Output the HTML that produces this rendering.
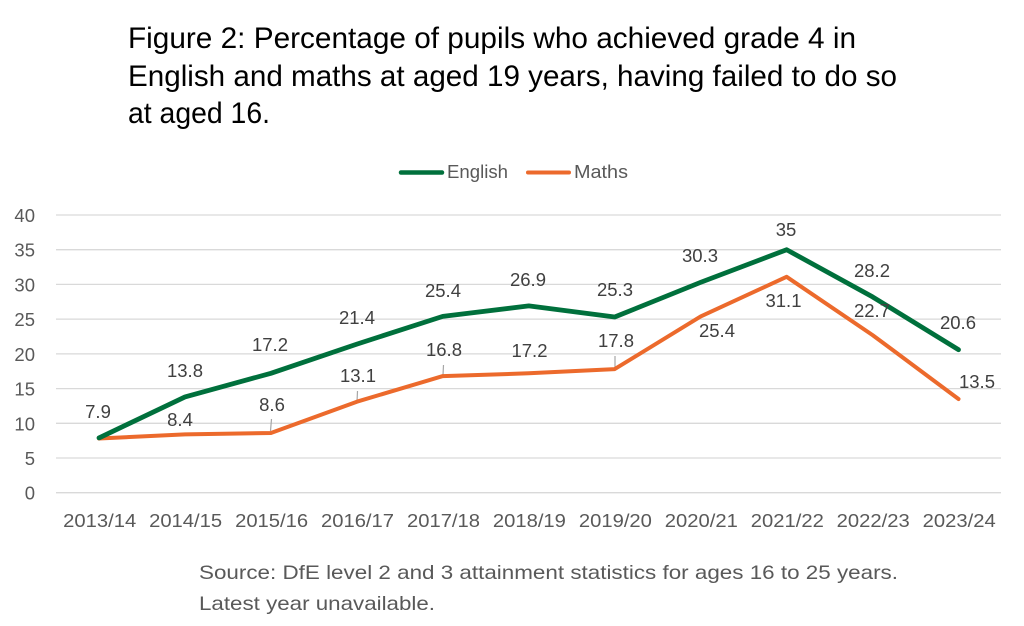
<!DOCTYPE html>
<html>
<head>
<meta charset="utf-8">
<style>
  html,body{margin:0;padding:0;background:#fff;}
  svg{display:block;}
  text{font-family:"Liberation Sans", sans-serif;}
</style>
</head>
<body>
<svg width="1024" height="626" viewBox="0 0 1024 626" xmlns="http://www.w3.org/2000/svg">
  <rect width="1024" height="626" fill="#fff"/>
  <!-- Title -->
  <g fill="#000" font-size="29.5">
    <text x="128" y="48" textLength="728" lengthAdjust="spacingAndGlyphs">Figure 2: Percentage of pupils who achieved grade 4 in</text>
    <text x="128" y="86" textLength="769" lengthAdjust="spacingAndGlyphs">English and maths at aged 19 years, having failed to do so</text>
    <text x="128" y="123" textLength="142" lengthAdjust="spacingAndGlyphs">at aged 16.</text>
  </g>

  <!-- Legend -->
  <line x1="401" y1="172.5" x2="442" y2="172.5" stroke="#00703C" stroke-width="4.5" stroke-linecap="round"/>
  <text x="447" y="178" font-size="18.5" fill="#595959" textLength="61" lengthAdjust="spacingAndGlyphs">English</text>
  <line x1="528" y1="172.5" x2="569" y2="172.5" stroke="#EC6A2C" stroke-width="4" stroke-linecap="round"/>
  <text x="574" y="178" font-size="18.5" fill="#595959" textLength="54" lengthAdjust="spacingAndGlyphs">Maths</text>

  <!-- Gridlines -->
  <g stroke="#d9d9d9" stroke-width="1.3">
    <line x1="56" x2="1001" y1="215" y2="215"/>
    <line x1="56" x2="1001" y1="249.7" y2="249.7"/>
    <line x1="56" x2="1001" y1="284.4" y2="284.4"/>
    <line x1="56" x2="1001" y1="319.1" y2="319.1"/>
    <line x1="56" x2="1001" y1="353.9" y2="353.9"/>
    <line x1="56" x2="1001" y1="388.6" y2="388.6"/>
    <line x1="56" x2="1001" y1="423.3" y2="423.3"/>
    <line x1="56" x2="1001" y1="458" y2="458"/>
    <line x1="56" x2="1001" y1="492.7" y2="492.7"/>
  </g>

  <!-- Y axis labels -->
  <g font-size="18.5" fill="#595959" text-anchor="end">
    <text x="35" y="222">40</text>
    <text x="35" y="256.7">35</text>
    <text x="35" y="291.4">30</text>
    <text x="35" y="326.1">25</text>
    <text x="35" y="360.9">20</text>
    <text x="35" y="395.6">15</text>
    <text x="35" y="430.3">10</text>
    <text x="35" y="465">5</text>
    <text x="35" y="499.7">0</text>
  </g>

  <!-- X axis labels -->
  <g font-size="18.5" fill="#595959" text-anchor="middle">
    <text x="99.7" y="527" textLength="73" lengthAdjust="spacingAndGlyphs">2013/14</text>
    <text x="185.6" y="527" textLength="73" lengthAdjust="spacingAndGlyphs">2014/15</text>
    <text x="271.6" y="527" textLength="73" lengthAdjust="spacingAndGlyphs">2015/16</text>
    <text x="357.5" y="527" textLength="73" lengthAdjust="spacingAndGlyphs">2016/17</text>
    <text x="443.5" y="527" textLength="73" lengthAdjust="spacingAndGlyphs">2017/18</text>
    <text x="529.4" y="527" textLength="73" lengthAdjust="spacingAndGlyphs">2018/19</text>
    <text x="615.4" y="527" textLength="73" lengthAdjust="spacingAndGlyphs">2019/20</text>
    <text x="701.3" y="527" textLength="73" lengthAdjust="spacingAndGlyphs">2020/21</text>
    <text x="787.3" y="527" textLength="73" lengthAdjust="spacingAndGlyphs">2021/22</text>
    <text x="873.2" y="527" textLength="73" lengthAdjust="spacingAndGlyphs">2022/23</text>
    <text x="959.2" y="527" textLength="73" lengthAdjust="spacingAndGlyphs">2023/24</text>
  </g>

  <!-- Leader lines -->
  <g stroke="#a6a6a6" stroke-width="1.2">
    <line x1="271.5" y1="419" x2="270.5" y2="431"/>
    <line x1="357.5" y1="391" x2="357" y2="402"/>
    <line x1="443.5" y1="365" x2="443" y2="375"/>
    <line x1="615" y1="356" x2="615" y2="368"/>
  </g>

  <!-- Maths series -->
  <polyline fill="none" stroke="#EC6A2C" stroke-width="4" stroke-linejoin="round" stroke-linecap="round"
    points="99,438.5 185,434.4 270.9,433 356.9,401.7 442.8,376.1 528.8,373.3 614.7,369.1 700.7,316.4 786.6,276.8 872.6,335.1 958.5,399"/>
  <!-- English series -->
  <polyline fill="none" stroke="#00703C" stroke-width="4.8" stroke-linejoin="round" stroke-linecap="round"
    points="99,437.9 185,396.9 270.9,373.3 356.9,344.1 442.8,316.4 528.8,305.9 614.7,317 700.7,282.3 786.6,249.7 872.6,296.9 958.5,349.7"/>

  <!-- Data labels -->
  <g font-size="18.5" fill="#404040" text-anchor="middle">
    <!-- English -->
    <text x="98" y="418">7.9</text>
    <text x="185" y="377">13.8</text>
    <text x="270" y="351">17.2</text>
    <text x="357" y="324">21.4</text>
    <text x="443" y="297">25.4</text>
    <text x="528" y="286">26.9</text>
    <text x="615" y="296">25.3</text>
    <text x="700" y="262">30.3</text>
    <text x="786" y="236">35</text>
    <text x="872" y="277">28.2</text>
    <text x="958" y="329">20.6</text>
    <!-- Maths -->
    <text x="180" y="426">8.4</text>
    <text x="272" y="411">8.6</text>
    <text x="358" y="382">13.1</text>
    <text x="444" y="356">16.8</text>
    <text x="529.5" y="357">17.2</text>
    <text x="616" y="347">17.8</text>
    <text x="717" y="337">25.4</text>
    <text x="783.5" y="307">31.1</text>
    <text x="872" y="317">22.7</text>
    <text x="977" y="388">13.5</text>
  </g>

  <!-- Source -->
  <g font-size="19.5" fill="#595959">
    <text x="199" y="579" textLength="699" lengthAdjust="spacingAndGlyphs">Source: DfE level 2 and 3 attainment statistics for ages 16 to 25 years.</text>
    <text x="199" y="610" textLength="236" lengthAdjust="spacingAndGlyphs">Latest year unavailable.</text>
  </g>
</svg>
</body>
</html>
